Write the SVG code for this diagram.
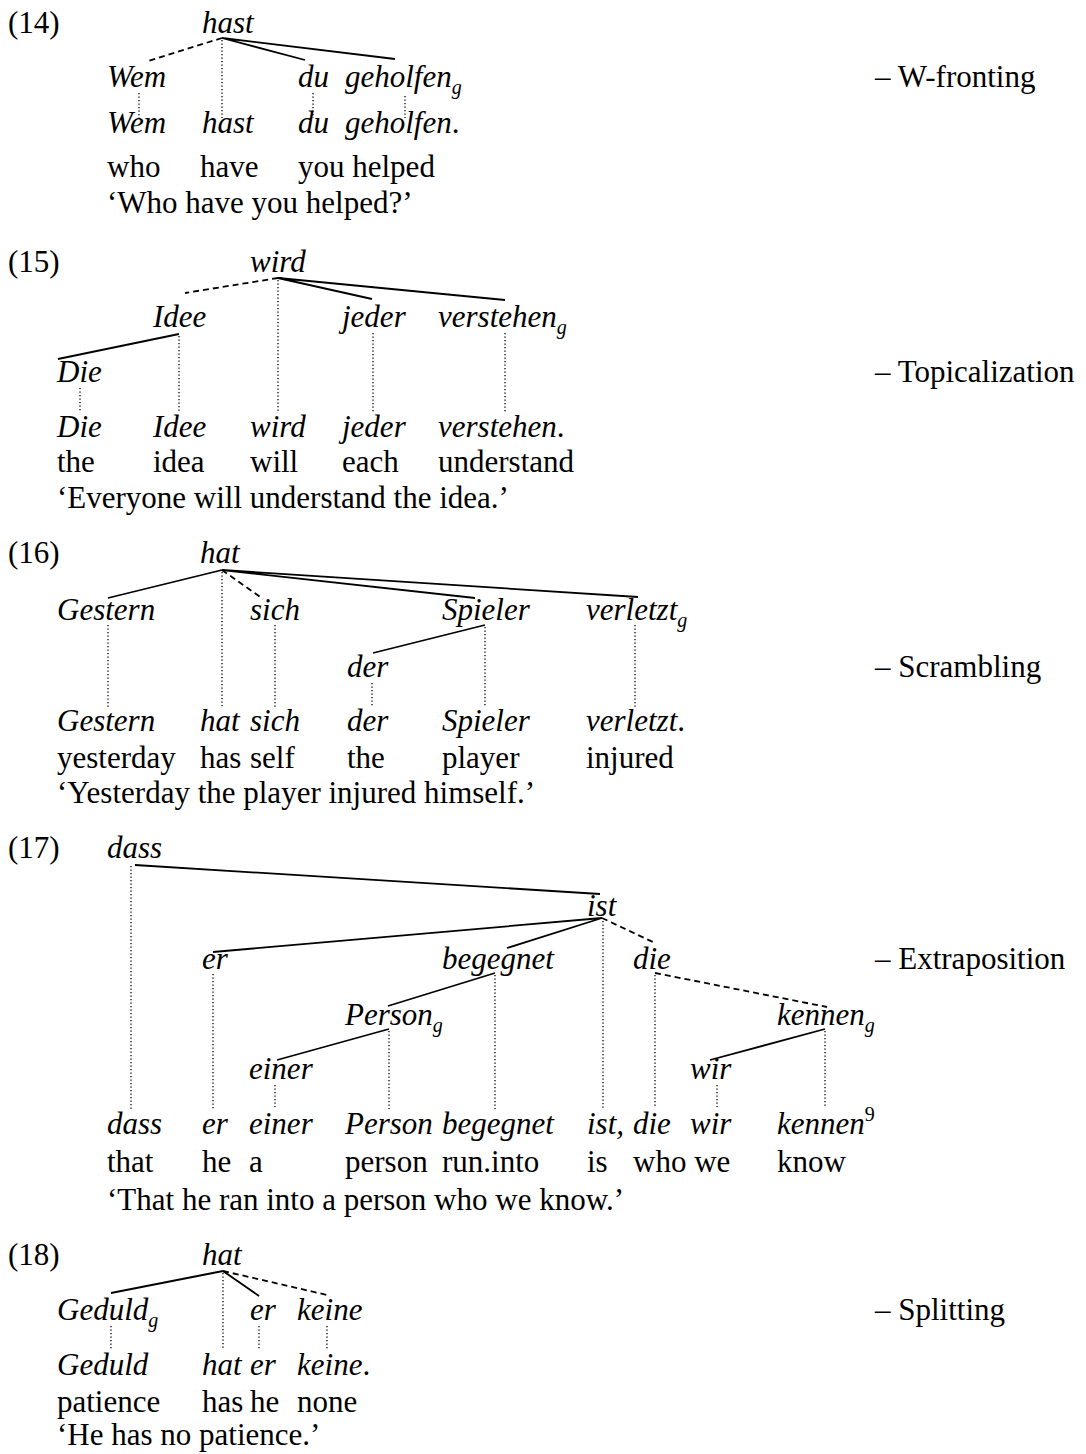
<svg xmlns="http://www.w3.org/2000/svg" width="1086" height="1454" viewBox="0 0 1086 1454">
<style>
text{font-family:"Liberation Serif","Times New Roman",serif;font-size:31px;fill:#000}
.i{font-style:italic}
.sub{font-size:20px}
.s{stroke:#000;stroke-width:1.8;fill:none}
.d{stroke:#000;stroke-width:1.8;stroke-dasharray:6 4;fill:none}
.o{stroke:#000;stroke-width:1.3;stroke-dasharray:1.3 2.2;fill:none}
</style>
<rect width="1086" height="1454" fill="#fff"/>

<g id="connectors">
<!-- 14 -->
<path class="d" d="M222,38 L148,61"/>
<path class="s" d="M222,38 L305,60 M222,38 L395,59"/>
<path class="o" d="M222,40 V118 M139,93 V118 M313,93 V118 M405,96 V118"/>
<!-- 15 -->
<path class="d" d="M278,278 L185,293"/>
<path class="s" d="M278,278 L372,299 M278,278 L505,300 M179,334 L58,359"/>
<path class="o" d="M278,280 V412 M179,336 V412 M373,333 V412 M505,333 V412 M80,388 V412"/>
<!-- 16 -->
<path class="s" d="M222,570 L108,598 M222,570 L475,598 M222,570 L638,597 M485,625 L373,653"/>
<path class="d" d="M222,570 L263,599"/>
<path class="o" d="M222,572 V707 M108,625 V707 M275,625 V707 M485,627 V707 M372,683 V707 M635,625 V707"/>
<!-- 17 -->
<path class="s" d="M135,865 L600,894 M602,918 L213,952 M602,918 L507,948 M495,973 L388,1006 M389,1029 L277,1060 M825,1029 L710,1060"/>
<path class="d" d="M602,918 L655,943 M655,973 L827,1007"/>
<path class="o" d="M131,866 V1109 M603,921 V1108 M213,974 V1109 M495,975 V1109 M389,1031 V1109 M275,1085 V1107 M655,975 V1108 M825,1031 V1108 M717,1085 V1107"/>
<!-- 18 -->
<path class="s" d="M223,1271 L111,1293 M223,1271 L259,1296"/>
<path class="d" d="M223,1271 L327,1295"/>
<path class="o" d="M223,1273 V1350 M111,1326 V1350 M259,1326 V1350 M327,1326 V1350"/>
</g>

<!-- Example 14 -->
<g id="ex14-num"><text x="8" y="33">(14)</text></g>
<g id="ex14-hast"><text class="i" x="202" y="33">hast</text></g>
<g id="ex14-wem"><text class="i" x="107" y="87">Wem</text></g>
<g id="ex14-du"><text class="i" x="298" y="87">du</text></g>
<g id="ex14-geholfen"><text class="i" x="345" y="87">geholfen<tspan class="sub" dy="7">g</tspan></text></g>
<g id="ex14-sentence">
<text class="i" x="107" y="133">Wem</text><text class="i" x="202" y="133">hast</text><text class="i" x="298" y="133">du</text><text class="i" x="345" y="133">geholfen<tspan font-style="normal">.</tspan></text>
</g>
<g id="ex14-gloss">
<text x="107" y="177">who</text><text x="200" y="177">have</text><text x="298" y="177">you helped</text>
</g>
<g id="ex14-trans"><text x="107" y="213">‘Who have you helped?’</text></g>
<g id="ex14-label"><text x="875" y="87">– W-fronting</text></g>

<!-- Example 15 -->
<g id="ex15-num"><text x="8" y="272">(15)</text></g>
<g id="ex15-wird"><text class="i" x="250" y="272">wird</text></g>
<g id="ex15-idee"><text class="i" x="153" y="327">Idee</text></g>
<g id="ex15-jeder"><text class="i" x="342" y="327">jeder</text></g>
<g id="ex15-verstehen"><text class="i" x="438" y="327">verstehen<tspan class="sub" dy="7">g</tspan></text></g>
<g id="ex15-die"><text class="i" x="57" y="382">Die</text></g>
<g id="ex15-sentence">
<text class="i" x="57" y="437">Die</text><text class="i" x="153" y="437">Idee</text><text class="i" x="250" y="437">wird</text><text class="i" x="342" y="437">jeder</text><text class="i" x="438" y="437">verstehen<tspan font-style="normal">.</tspan></text>
</g>
<g id="ex15-gloss">
<text x="57" y="472">the</text><text x="153" y="472">idea</text><text x="250" y="472">will</text><text x="342" y="472">each</text><text x="438" y="472">understand</text>
</g>
<g id="ex15-trans"><text x="57" y="508">‘Everyone will understand the idea.’</text></g>
<g id="ex15-label"><text x="875" y="382">– Topicalization</text></g>

<!-- Example 16 -->
<g id="ex16-num"><text x="8" y="563">(16)</text></g>
<g id="ex16-hat"><text class="i" x="200" y="563">hat</text></g>
<g id="ex16-gestern"><text class="i" x="57" y="620">Gestern</text></g>
<g id="ex16-sich"><text class="i" x="250" y="620">sich</text></g>
<g id="ex16-spieler"><text class="i" x="442" y="620">Spieler</text></g>
<g id="ex16-verletzt"><text class="i" x="586" y="620">verletzt<tspan class="sub" dy="7">g</tspan></text></g>
<g id="ex16-der"><text class="i" x="347" y="677">der</text></g>
<g id="ex16-sentence">
<text class="i" x="57" y="731">Gestern</text><text class="i" x="200" y="731">hat</text><text class="i" x="250" y="731">sich</text><text class="i" x="347" y="731">der</text><text class="i" x="442" y="731">Spieler</text><text class="i" x="586" y="731">verletzt<tspan font-style="normal">.</tspan></text>
</g>
<g id="ex16-gloss">
<text x="57" y="768">yesterday</text><text x="200" y="768">has</text><text x="250" y="768">self</text><text x="347" y="768">the</text><text x="442" y="768">player</text><text x="586" y="768">injured</text>
</g>
<g id="ex16-trans"><text x="57" y="803">‘Yesterday the player injured himself.’</text></g>
<g id="ex16-label"><text x="875" y="677">– Scrambling</text></g>

<!-- Example 17 -->
<g id="ex17-num"><text x="8" y="858">(17)</text></g>
<g id="ex17-dass"><text class="i" x="107" y="858">dass</text></g>
<g id="ex17-ist"><text class="i" x="587" y="916">ist</text></g>
<g id="ex17-er"><text class="i" x="202" y="969">er</text></g>
<g id="ex17-begegnet"><text class="i" x="442" y="969">begegnet</text></g>
<g id="ex17-die"><text class="i" x="633" y="969">die</text></g>
<g id="ex17-person"><text class="i" x="345" y="1025">Person<tspan class="sub" dy="7">g</tspan></text></g>
<g id="ex17-kennen"><text class="i" x="777" y="1025">kennen<tspan class="sub" dy="7">g</tspan></text></g>
<g id="ex17-einer"><text class="i" x="249" y="1079">einer</text></g>
<g id="ex17-wir"><text class="i" x="690" y="1079">wir</text></g>
<g id="ex17-sentence">
<text class="i" x="107" y="1134">dass</text><text class="i" x="202" y="1134">er</text><text class="i" x="249" y="1134">einer</text><text class="i" x="345" y="1134">Person</text><text class="i" x="442" y="1134">begegnet</text><text class="i" x="587" y="1134">ist,</text><text class="i" x="633" y="1134">die</text><text class="i" x="690" y="1134">wir</text><text class="i" x="777" y="1134">kennen<tspan class="sub" font-style="normal" dy="-13">9</tspan></text>
</g>
<g id="ex17-gloss">
<text x="107" y="1172">that</text><text x="202" y="1172">he</text><text x="249" y="1172">a</text><text x="345" y="1172">person</text><text x="442" y="1172">run.into</text><text x="587" y="1172">is</text><text x="633" y="1172">who we</text><text x="777" y="1172">know</text>
</g>
<g id="ex17-trans"><text x="107" y="1210">‘That he ran into a person who we know.’</text></g>
<g id="ex17-label"><text x="875" y="969">– Extraposition</text></g>

<!-- Example 18 -->
<g id="ex18-num"><text x="8" y="1265">(18)</text></g>
<g id="ex18-hat"><text class="i" x="202" y="1265">hat</text></g>
<g id="ex18-geduld"><text class="i" x="57" y="1320">Geduld<tspan class="sub" dy="7">g</tspan></text></g>
<g id="ex18-er"><text class="i" x="250" y="1320">er</text></g>
<g id="ex18-keine"><text class="i" x="297" y="1320">keine</text></g>
<g id="ex18-sentence">
<text class="i" x="57" y="1375">Geduld</text><text class="i" x="202" y="1375">hat</text><text class="i" x="250" y="1375">er</text><text class="i" x="297" y="1375">keine<tspan font-style="normal">.</tspan></text>
</g>
<g id="ex18-gloss">
<text x="57" y="1412">patience</text><text x="202" y="1412">has</text><text x="250" y="1412">he</text><text x="297" y="1412">none</text>
</g>
<g id="ex18-trans"><text x="57" y="1445">‘He has no patience.’</text></g>
<g id="ex18-label"><text x="875" y="1320">– Splitting</text></g>
</svg>
